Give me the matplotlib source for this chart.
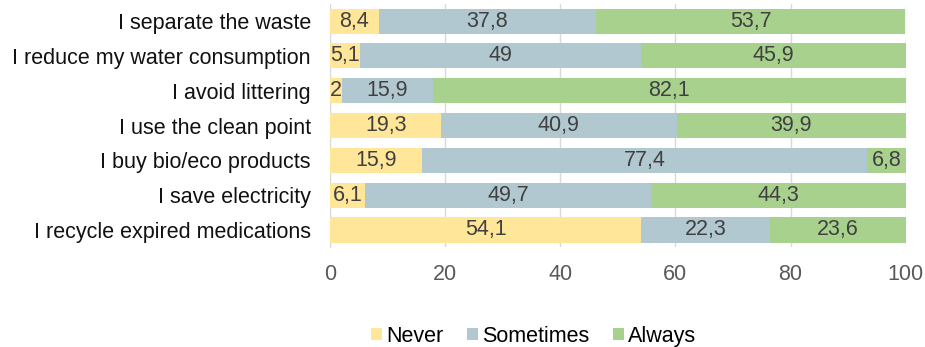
import matplotlib
matplotlib.use("Agg")
import matplotlib.pyplot as plt
import numpy as np

categories = ["I separate the waste", "I reduce my water consumption", "I avoid littering",
              "I use the clean point", "I buy bio/eco products", "I save electricity",
              "I recycle expired medications"]
never = [8.4, 5.1, 2, 19.3, 15.9, 6.1, 54.1]
sometimes = [37.8, 49, 15.9, 40.9, 77.4, 49.7, 22.3]
always = [53.7, 45.9, 82.1, 39.9, 6.8, 44.3, 23.6]
series_names = ["Never", "Sometimes", "Always"]
colors = ["#FFE699", "#B1C8D0", "#A9D18E"]

plt.rcParams['font.family'] = ['Liberation Sans', 'DejaVu Sans']

fig = plt.figure(figsize=(9.25, 3.47), dpi=100)
ax = fig.add_axes([0.357, 0.287, 0.622, 0.7025])

y = np.arange(len(categories))
left = np.zeros(len(categories))
for name, vals, c in zip(series_names, [never, sometimes, always], colors):
    vals = np.array(vals, dtype=float)
    bars = ax.barh(y, vals, left=left, height=0.72, color=c, label=name, zorder=3)
    labels = [("%g" % v).replace(".", ",") for v in vals]
    ax.bar_label(bars, labels=labels, label_type='center', fontsize=15.5, color="#404040")
    left += vals

ax.set_ylim(len(categories) - 0.5, -0.5)
ax.set_xlim(0, 100)
ax.set_xticks(np.arange(0, 101, 20))
ax.set_yticks(y)
ax.set_yticklabels(categories, fontsize=15.5, color="#111111")
ax.tick_params(axis='x', length=0, labelsize=15.5, labelcolor="#595959", pad=12)
ax.tick_params(axis='y', length=0, pad=14)
ax.grid(axis='x', color="#D9D9D9", linewidth=1, zorder=0)
for s in ["top", "right", "bottom"]:
    ax.spines[s].set_visible(False)
ax.spines["left"].set_color("#D9D9D9")

leg = fig.legend(loc="lower center", bbox_to_anchor=(0.577, -0.055), ncol=3, frameon=False,
                 fontsize=15.5, handlelength=0.5, handleheight=0.5, handletextpad=0.2,
                 columnspacing=1.1)

fig.savefig("out.png", dpi=100)
